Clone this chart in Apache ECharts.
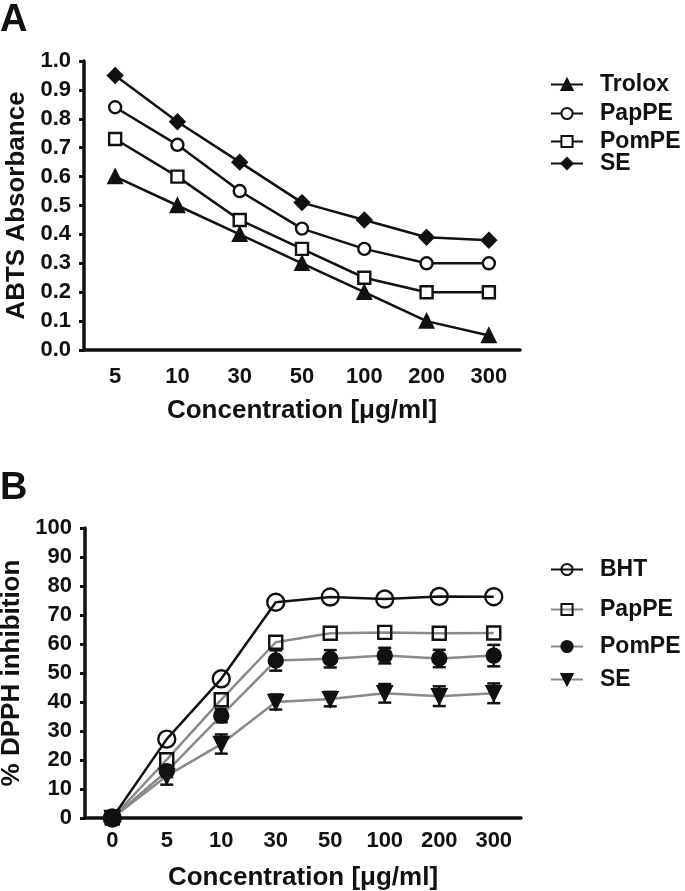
<!DOCTYPE html>
<html><head><meta charset="utf-8">
<script src="https://cdn.jsdelivr.net/npm/echarts@6/dist/echarts.min.js"></script>
<style>html,body{margin:0;padding:0;background:#fff}#c{width:685px;height:891px}</style>
</head><body><div id="c"></div>
<script>
// Panel A data
var catsA = ['5','10','30','50','100','200','300'];
var troloxA = [0.60, 0.50, 0.40, 0.30, 0.20, 0.10, 0.05];
var papA    = [0.84, 0.71, 0.55, 0.42, 0.35, 0.30, 0.30];
var pomA    = [0.73, 0.60, 0.45, 0.35, 0.25, 0.20, 0.20];
var seA     = [0.95, 0.79, 0.65, 0.51, 0.45, 0.39, 0.38];
// Panel B data
var catsB = ['0','5','10','30','50','100','200','300'];
var bhtB  = [0, 27.2, 48.0, 74.4, 76.2, 75.5, 76.4, 76.3];
var papB  = [0, 20.1, 40.8, 60.6, 63.7, 64.0, 63.7, 63.8];
var pomB  = [0, 16.1, 35.3, 54.3, 54.9, 56.0, 55.0, 56.0];
var pomErr= [0, 2.0, 2.3, 3.5, 3.0, 2.7, 3.0, 3.7];
var seB   = [0, 14.5, 25.5, 40.0, 41.0, 43.0, 42.0, 43.0];
var seErr = [0, 3.0, 3.3, 2.6, 2.5, 3.2, 3.4, 3.4];

var FONT = '"Liberation Sans", Arial, Helvetica, sans-serif';
var INK = '#111';
var GRAY = '#8a8a8a';
var invTri = 'path://M0,0 L10,0 L5,9 Z';

function errData(vals, errs){
  return vals.map(function(v,i){ return [i, v - errs[i], v + errs[i]]; });
}
function renderErr(params, api){
  var x = api.value(0);
  var lo = api.coord([x, api.value(1)]);
  var hi = api.coord([x, api.value(2)]);
  var w = 6.5;
  var st = {stroke: INK, lineWidth: 2.5};
  return {type:'group', children:[
    {type:'line', shape:{x1:lo[0],y1:lo[1],x2:hi[0],y2:hi[1]}, style:st},
    {type:'line', shape:{x1:lo[0]-w,y1:lo[1],x2:lo[0]+w,y2:lo[1]}, style:st},
    {type:'line', shape:{x1:hi[0]-w,y1:hi[1],x2:hi[0]+w,y2:hi[1]}, style:st}
  ]};
}

function xAxis(cats, gi, margin, gap){
  return {type:'category', gridIndex:gi, data:cats, boundaryGap:true,
    name:'Concentration [\u03bcg/ml]', nameLocation:'middle', nameGap:gap,
    nameTextStyle:{fontFamily:FONT, fontWeight:'bold', fontSize:26, color:INK},
    axisLine:{lineStyle:{color:INK, width:3.5}},
    axisTick:{alignWithLabel:true, length:6, lineStyle:{color:INK, width:3}},
    axisLabel:{fontFamily:FONT, fontWeight:'bold', fontSize:22, color:INK, margin:margin},
    splitLine:{show:false}};
}
function yAxis(gi, max, interval, name, fmt){
  return {type:'value', gridIndex:gi, min:0, max:max, interval:interval,
    name:name, nameLocation:'middle', nameGap:54,
    nameTextStyle:{fontFamily:FONT, fontWeight:'bold', fontSize:26, color:INK},
    axisLine:{show:true, lineStyle:{color:INK, width:3.5}},
    axisTick:{show:true, length:5, lineStyle:{color:INK, width:3}},
    axisLabel:{fontFamily:FONT, fontWeight:'bold', fontSize:22, color:INK, margin:13, formatter:fmt},
    splitLine:{show:false}};
}

function lineSeries(name, data, gi, symbol, size, fill, lineColor, z){
  return {type:'line', name:name, data:data, xAxisIndex:gi, yAxisIndex:gi,
    symbol:symbol, symbolSize:size, showAllSymbol:true, z:z||3,
    lineStyle:{color:lineColor, width:2.5},
    itemStyle:{color:fill, borderColor:INK, borderWidth:2.4},
    emphasis:{disabled:true}, animation:false};
}

function leg(name, top){
  return {data:[name], left:550, top:top, orient:'vertical', padding:0,
    itemWidth:32, itemHeight:14, selectedMode:false,
    formatter:function(n){ return n.split(':')[1]; },
    textStyle:{fontFamily:FONT, fontWeight:'bold', fontSize:23, color:INK, padding:[0,0,0,12]}};
}

var option = {
  backgroundColor:'#fff',
  animation:false,
  title:[
    {text:'A', left:0, top:2, padding:0, textStyle:{fontFamily:FONT, fontWeight:'bold', fontSize:38, color:INK}},
    {text:'B', left:0, top:470, padding:0, textStyle:{fontFamily:FONT, fontWeight:'bold', fontSize:38, color:INK}}
  ],
  grid:[
    {left:84, top:61, width:436, height:289, outerBoundsMode:'none', containLabel:false},
    {left:85, top:528, width:436, height:290, outerBoundsMode:'none', containLabel:false}
  ],
  xAxis:[ xAxis(catsA, 0, 16, 48), xAxis(catsB, 1, 12, 47) ],
  yAxis:[
    yAxis(0, 1, 0.1, 'ABTS Absorbance', function(v){ return v.toFixed(1); }),
    yAxis(1, 100, 10, '% DPPH inhibition', function(v){ return String(v); })
  ],
  legend:[
    leg('A:Trolox', 73), leg('A:PapPE', 102), leg('A:PomPE', 130), leg('A:SE', 152),
    leg('B:BHT', 558), leg('B:PapPE', 598), leg('B:PomPE', 635), leg('B:SE', 668)
  ],
  series:[
    lineSeries('A:Trolox', troloxA, 0, 'triangle', 13, INK, INK),
    lineSeries('A:PapPE', papA, 0, 'circle', 12, '#fff', INK),
    lineSeries('A:PomPE', pomA, 0, 'rect', 12, '#fff', INK),
    lineSeries('A:SE', seA, 0, 'diamond', 14, INK, INK),
    {type:'custom', name:'pomErr', xAxisIndex:1, yAxisIndex:1, data:errData(pomB, pomErr), renderItem:renderErr, z:2, silent:true},
    {type:'custom', name:'seErr', xAxisIndex:1, yAxisIndex:1, data:errData(seB, seErr), renderItem:renderErr, z:2, silent:true},
    lineSeries('B:PapPE', papB, 1, 'rect', 13, 'rgba(255,255,255,0)', GRAY),
    lineSeries('B:PomPE', pomB, 1, 'circle', 14, INK, GRAY),
    lineSeries('B:SE', seB, 1, invTri, 14, INK, GRAY),
    lineSeries('B:BHT', bhtB, 1, 'circle', 17, 'rgba(255,255,255,0)', INK, 4)
  ]
};
var chart = echarts.init(document.getElementById('c'), null, {renderer:'canvas'});
chart.setOption(option);
</script></body></html>
